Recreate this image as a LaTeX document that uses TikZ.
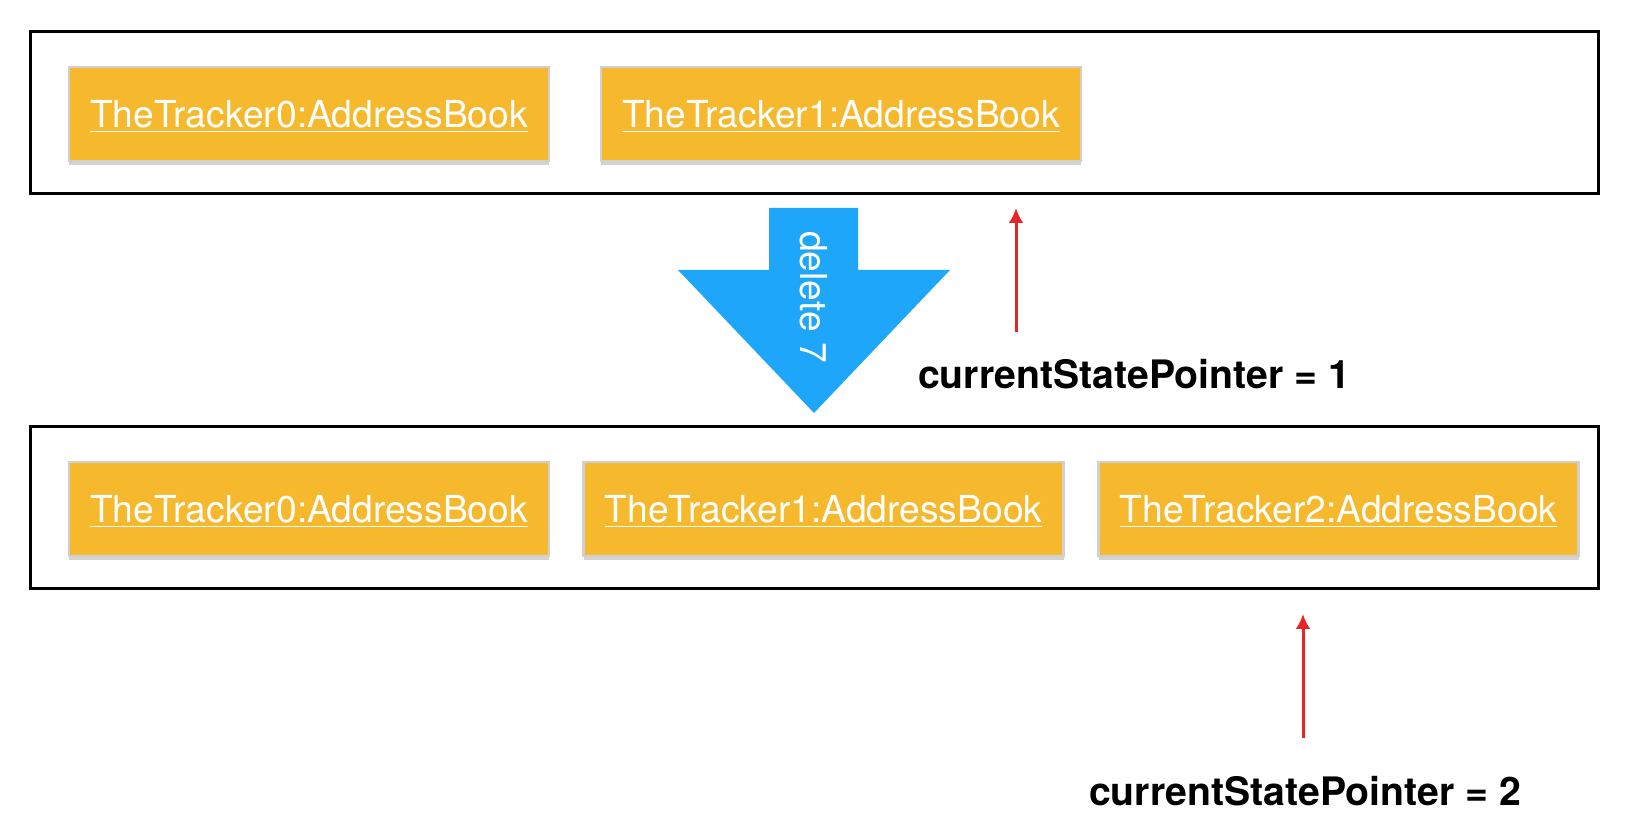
\documentclass[tikz,border=0pt]{standalone}
\usepackage{fontspec}
\setmainfont{TeX Gyre Heros}
\usepackage{tikz}
\usetikzlibrary{shadows}
\usetikzlibrary{arrows.meta}
\tikzset{>={Latex[length=7.5pt,width=7.5pt]}}

\definecolor{bookorange}{RGB}{246,185,46}
\definecolor{bookedge}{RGB}{208,208,208}
\definecolor{deleteblue}{RGB}{30,166,250}
\definecolor{pointerred}{RGB}{230,38,38}

\tikzset{
  stateframe/.style={draw, line width=1.5pt, minimum width=784pt,
    minimum height=81pt, inner sep=0pt},
  book/.style={fill=bookorange, draw=bookedge, line width=1.3pt,
    minimum width=240pt, minimum height=47pt, inner sep=0pt, text=white,
    text height=15pt, text depth=1pt,
    font=\fontsize{18.6}{22}\selectfont,
    drop shadow={shadow xshift=0pt, shadow yshift=-2pt, opacity=0.35}},
  pointer/.style={anchor=base west, font=\bfseries\fontsize{19.6}{23}\selectfont},
  pointerarrow/.style={->, pointerred, line width=1.5pt}
}

\begin{document}
\begin{tikzpicture}[x=0.5pt,y=-0.5pt]
      \useasboundingbox (0,0) rectangle (1630,838);

      \node [stateframe] (before) at (814,113) {};
      \node [stateframe] (after) at (814,508) {};

      \node [book] (before0) at (309,114) {\underline{TheTracker0:AddressBook}};
      \node [book] (before1) at (841,114) {\underline{TheTracker1:AddressBook}};

      \node [book] (after0) at (309,509) {\underline{TheTracker0:AddressBook}};
      \node [book] (after1) at (823.5,509) {\underline{TheTracker1:AddressBook}};
      \node [book] (after2) at (1338.5,509) {\underline{TheTracker2:AddressBook}};

      \fill [deleteblue] (769,208) -- (858,208) -- (858,270) -- (950,270)
        -- (814,413) -- (678,270) -- (769,270) -- cycle;
      \node [rotate=-90, text=white, font=\fontsize{18.6}{22}\selectfont]
        (deletecmd) at (814,297) {delete 7};

      \node [pointer] (pointer1) at (911,389) {currentStatePointer = 1};
      \coordinate (p1tail) at (1016,332);
      \coordinate (p1head) at (1016,208);
      \draw [pointerarrow] (p1tail) -- (p1head);

      \node [pointer] (pointer2) at (1082,806) {currentStatePointer = 2};
      \coordinate (p2tail) at (1303,738);
      \coordinate (p2head) at (1303,614);
      \draw [pointerarrow] (p2tail) -- (p2head);
  \end{tikzpicture}
\end{document}
